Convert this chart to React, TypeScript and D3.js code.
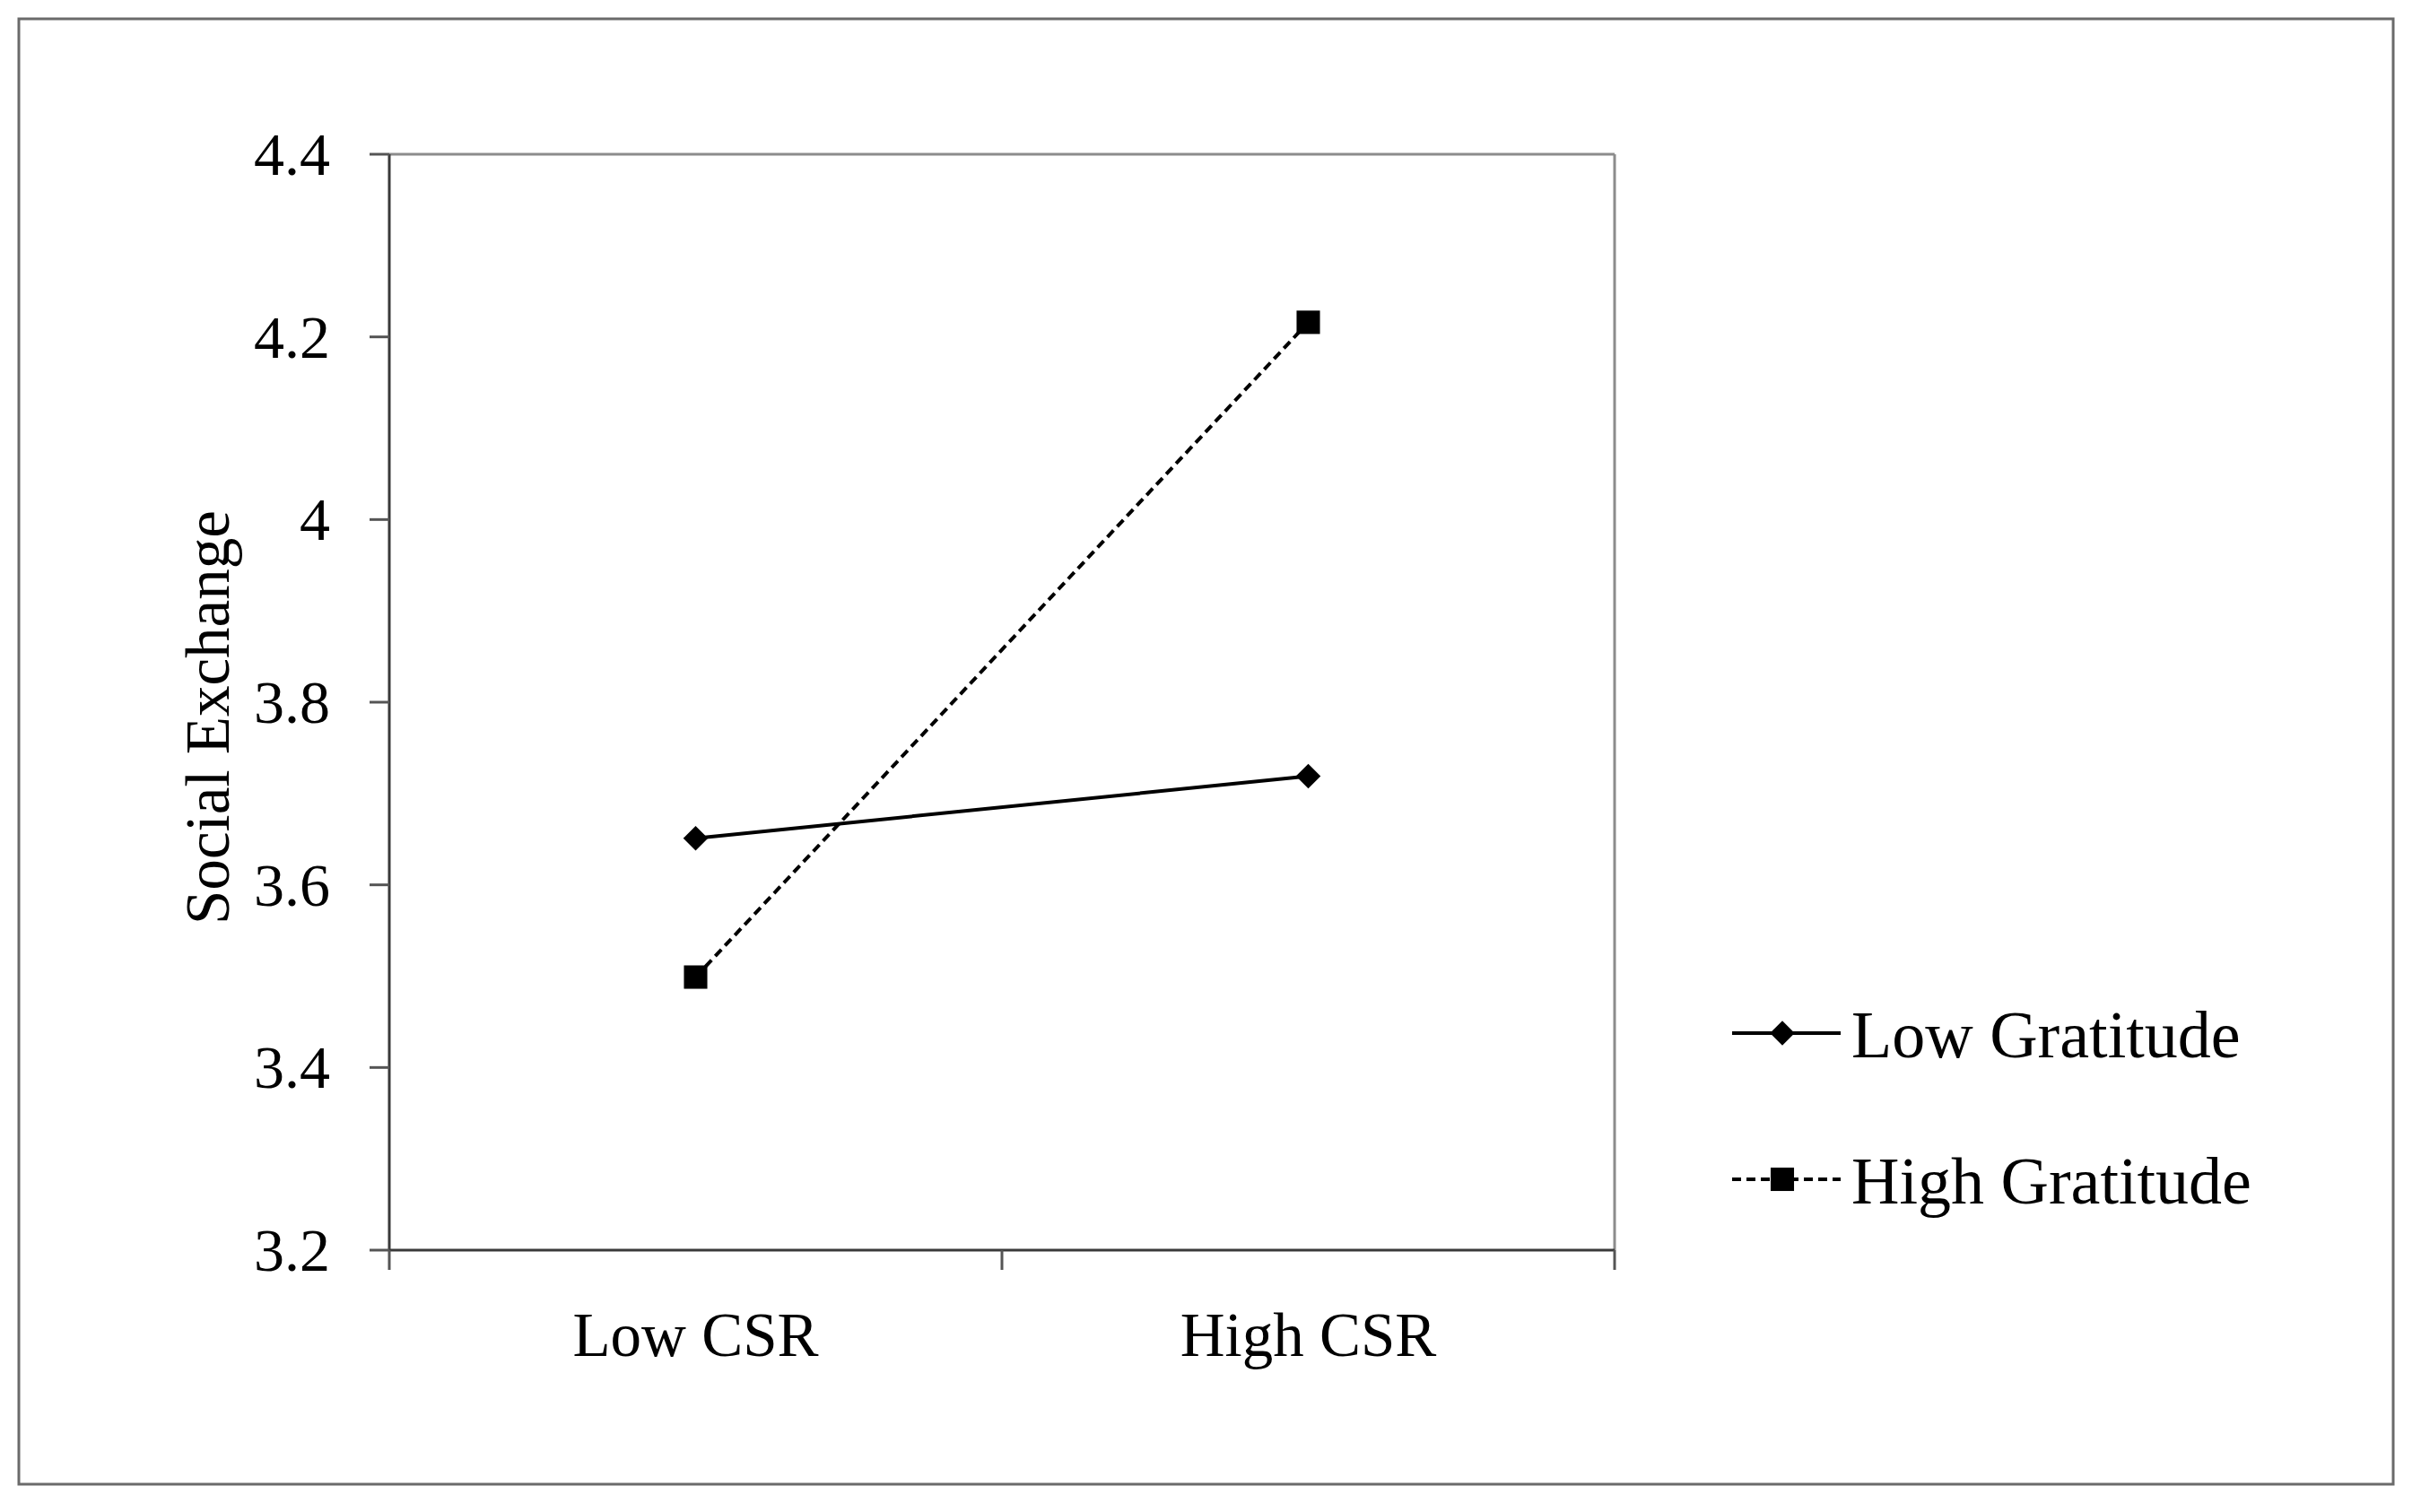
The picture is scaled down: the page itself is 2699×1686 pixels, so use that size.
import * as d3 from 'd3';

const categories = ['Low CSR', 'High CSR'];
const lowGratitude = [3.651, 3.719];
const highGratitude = [3.499, 4.216];
const yTicks = [3.2, 3.4, 3.6, 3.8, 4, 4.2, 4.4];
const seriesNames = ['Low Gratitude', 'High Gratitude'];

const W = 2699;
const H = 1686;
const font = '"Liberation Serif", "Times New Roman", serif';

const App = () => {
  const left = 434;
  const right = 1800;
  const top = 172;
  const bottom = 1394;

  const x = d3.scaleBand<string>().domain(categories).range([left, right]);
  const y = d3.scaleLinear().domain([3.2, 4.4]).range([bottom, top]);

  const line = d3
    .line<number>()
    .x((d, i) => (x(categories[i]) as number) + x.bandwidth() / 2)
    .y(d => y(d));

  const diamond = d3.symbol().type(d3.symbolSquare).size(380)() as string;
  const square = d3.symbol().type(d3.symbolSquare).size(680)() as string;

  const series = [
    { name: seriesNames[0], values: lowGratitude, dash: undefined, marker: diamond, rotate: 45 },
    { name: seriesNames[1], values: highGratitude, dash: '10,6', marker: square, rotate: 0 },
  ];

  const xBounds = [left, ...categories.map(c => (x(c) as number) + x.bandwidth())];
  const tickLen = 22;

  return (
    <svg
      width={W}
      height={H}
      style={{ position: 'absolute', left: 0, top: 0, background: '#fff' }}
    >
      <rect x={21} y={21} width={2647} height={1634} fill="#fff" stroke="#6a6a6a" strokeWidth={3} />

      {/* plot frame: top and right are lighter */}
      <line x1={left} x2={right} y1={top} y2={top} stroke="#8c8c8c" strokeWidth={3} />
      <line x1={right} x2={right} y1={top} y2={bottom} stroke="#8c8c8c" strokeWidth={3} />

      {/* y axis */}
      <line x1={left} x2={left} y1={top} y2={bottom} stroke="#3a3a3a" strokeWidth={3} />
      {yTicks.map(t => (
        <g key={t}>
          <line x1={left - tickLen} x2={left} y1={y(t)} y2={y(t)} stroke="#555" strokeWidth={3} />
          <text
            x={left - 66}
            y={y(t)}
            dy="0.34em"
            textAnchor="end"
            fontFamily={font}
            fontSize={68}
            fill="#000"
          >
            {d3.format('')(t)}
          </text>
        </g>
      ))}
      <text
        transform={`translate(232,800) rotate(-90)`}
        textAnchor="middle"
        dy="0.34em"
        fontFamily={font}
        fontSize={69}
        fill="#000"
      >
        Social Exchange
      </text>

      {/* x axis */}
      <line x1={left} x2={right} y1={bottom} y2={bottom} stroke="#3a3a3a" strokeWidth={3} />
      {xBounds.map(b => (
        <line key={b} x1={b} x2={b} y1={bottom} y2={bottom + tickLen} stroke="#555" strokeWidth={3} />
      ))}
      {categories.map(c => (
        <text
          key={c}
          x={(x(c) as number) + x.bandwidth() / 2}
          y={1512}
          textAnchor="middle"
          fontFamily={font}
          fontSize={69}
          fill="#000"
        >
          {c}
        </text>
      ))}

      {/* series */}
      {series.map(s => (
        <g key={s.name}>
          <path
            d={line(s.values) as string}
            fill="none"
            stroke="#000"
            strokeWidth={4}
            strokeDasharray={s.dash}
          />
          {s.values.map((v, i) => (
            <path
              key={i}
              d={s.marker}
              transform={`translate(${(x(categories[i]) as number) + x.bandwidth() / 2},${y(v)}) rotate(${s.rotate})`}
              fill="#000"
            />
          ))}
        </g>
      ))}

      {/* legend */}
      {series.map((s, i) => {
        const ly = 1152 + i * 163;
        return (
          <g key={s.name}>
            <line x1={1931} x2={2052} y1={ly} y2={ly} stroke="#000" strokeWidth={4} strokeDasharray={s.dash} />
            <path d={s.marker} transform={`translate(1987,${ly}) rotate(${s.rotate})`} fill="#000" />
            <text x={2064} y={ly} dy="0.36em" fontFamily={font} fontSize={74} fill="#000">
              {s.name}
            </text>
          </g>
        );
      })}
    </svg>
  );
};

export default App;
